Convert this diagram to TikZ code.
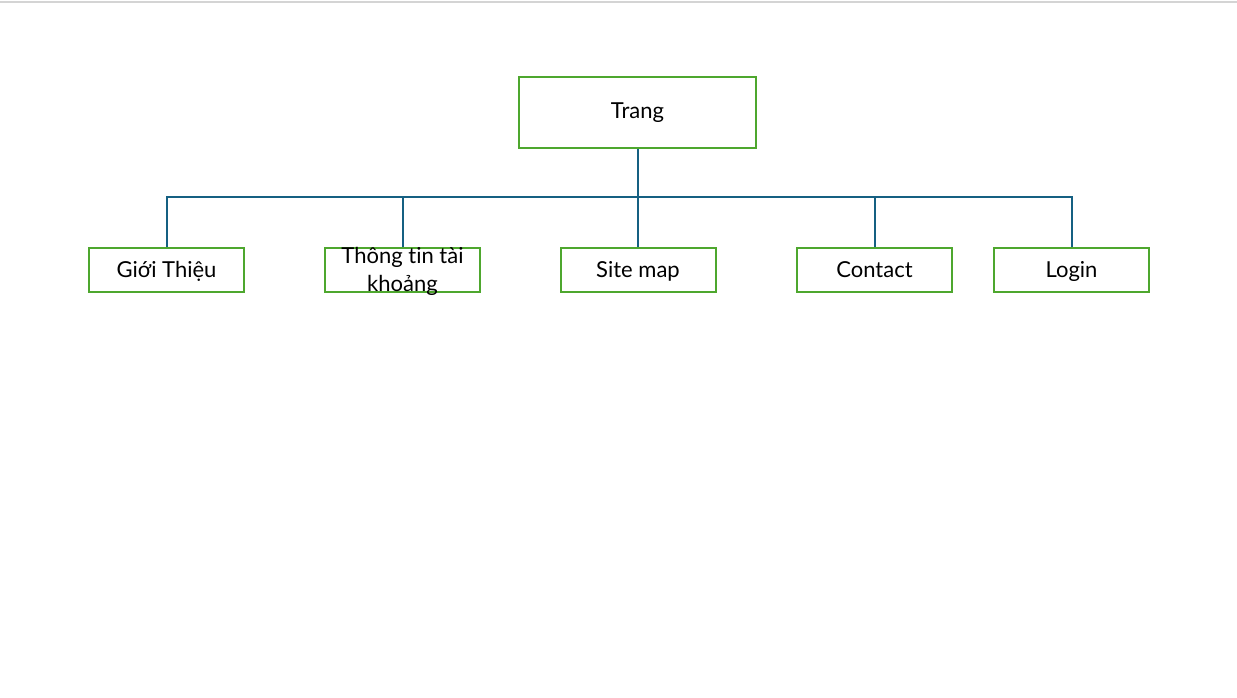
\documentclass[tikz,border=0pt]{standalone}
\usepackage{fontspec}
\setmainfont{Lato}[Ligatures={NoCommon}]
\definecolor{boxgreen}{HTML}{4EA72E}
\definecolor{linkblue}{HTML}{156082}
\definecolor{rulegray}{HTML}{D4D4D4}
\newcommand{\labelfont}{\fontsize{16.5pt}{21pt}\selectfont}
\begin{document}
\begin{tikzpicture}[x=0.75pt,y=-0.75pt,
  box/.style={draw=boxgreen, line width=1.5pt, fill=white, inner sep=0pt,
    minimum width=116.25pt, minimum height=33pt},
  rootbox/.style={box, minimum width=177.75pt, minimum height=53.25pt},
  txt/.style={inner sep=0pt, anchor=base, font=\labelfont},
  link/.style={draw=linkblue, line width=1.5pt}]
\useasboundingbox (0,0) rectangle (1237,697);
\draw[rulegray, line width=1pt] (0,2) -- (1237,2);

% boxes
\node[rootbox] (root) at (637.5,112.5) {};
\node[box] (intro) at (166.5,270) {};
\node[box] (acct) at (402.5,270) {};
\node[box] (sitemap) at (638,270) {};
\node[box] (contact) at (874.5,270) {};
\node[box] (login) at (1071.5,270) {};

% labels, set on their baselines
\node[txt] (root-text) at (637.5,118.5) {Trang};
\node[txt] (intro-text) at (166.5,277) {Giới Thiệu};
\node[txt] (acct-text1) at (402.5,263) {Thông tin tài};
\node[txt] (acct-text2) at (402.5,291) {khoảng};
\node[txt] (sitemap-text) at (638,277) {Site map};
\node[txt] (contact-text) at (874.5,277) {Contact};
\node[txt] (login-text) at (1071.5,277) {Login};

% connectors
\coordinate (bus) at (637.5,197);
\draw[link] (root.south) -- (bus);
\draw[link] (intro.north) |- (bus);
\draw[link] (login.north) |- (bus);
\draw[link] (acct.north) -- (acct.north |- bus);
\draw[link] (sitemap.north) -- (sitemap.north |- bus);
\draw[link] (contact.north) -- (contact.north |- bus);
\end{tikzpicture}
\end{document}
